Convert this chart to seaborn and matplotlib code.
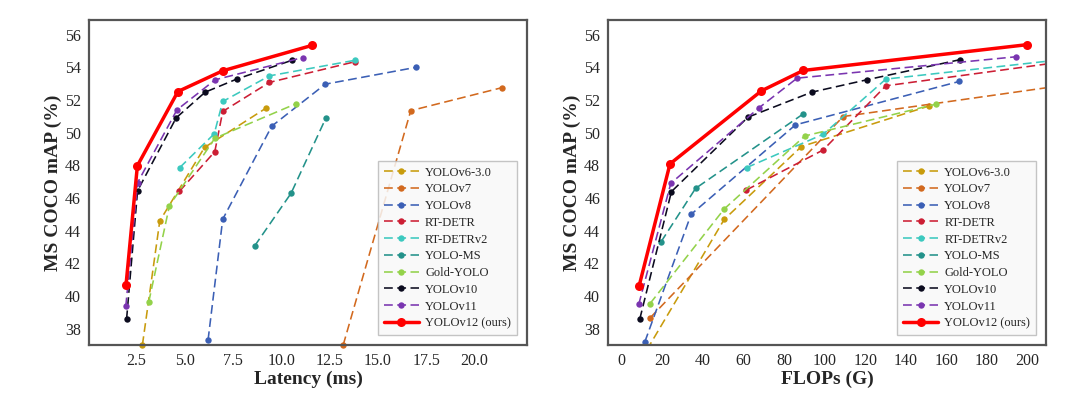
import numpy as np
import pandas as pd
import matplotlib
matplotlib.use("Agg")
import matplotlib.pyplot as plt
import seaborn as sns

# ---------------- data ----------------
models = ["YOLOv6-3.0", "YOLOv7", "YOLOv8", "RT-DETR", "RT-DETRv2",
          "YOLO-MS", "Gold-YOLO", "YOLOv10", "YOLOv11", "YOLOv12 (ours)"]

# latency (ms) vs mAP
v6_lat = [2.80, 3.70, 6.02, 9.20]
v6_map_lat = [37.0, 44.6, 49.1, 51.5]
v7_lat = [13.2, 16.7, 21.4]
v7_map_lat = [37.0, 51.35, 52.75]
v8_lat = [6.2, 6.96, 9.5, 12.27, 16.96]
v8_map_lat = [37.3, 44.7, 50.4, 52.97, 54.0]
rtdetr_lat = [4.71, 6.55, 6.96, 9.38, 13.79]
rtdetr_map_lat = [46.4, 48.84, 51.3, 53.08, 54.34]
rtdetrv2_lat = [4.73, 6.52, 6.96, 9.38, 13.79]
rtdetrv2_map_lat = [47.86, 49.93, 51.91, 53.48, 54.43]
yoloms_lat = [8.61, 10.5, 12.3]
yoloms_map_lat = [43.06, 46.29, 50.89]
gold_lat = [3.13, 4.2, 6.55, 10.75]
gold_map_lat = [39.64, 45.53, 49.66, 51.77]
v10_lat = [1.98, 2.55, 4.55, 6.05, 7.68, 10.54]
v10_map_lat = [38.58, 46.45, 50.91, 52.48, 53.28, 54.43]
v11_lat = [1.94, 2.55, 4.59, 6.57, 11.1]
v11_map_lat = [39.37, 46.94, 51.4, 53.24, 54.6]
v12_lat = [1.95, 2.54, 4.64, 6.96, 11.6]
v12_map_lat = [40.66, 47.98, 52.52, 53.79, 55.35]

# FLOPs (G) vs mAP
v6_flops = [12.5, 50.6, 88.6, 151.6]
v6_map_fl = [36.7, 44.69, 49.15, 51.64]
v7_flops = [14.1, 109.2, 212.0]
v7_map_fl = [38.66, 50.99, 52.8]
v8_flops = [11.5, 34.3, 85.7, 166.4]
v8_map_fl = [37.19, 45.0, 50.48, 53.14]
rtdetr_flops = [61.5, 99.3, 130.2, 215.0]
rtdetr_map_fl = [46.49, 48.94, 52.87, 54.3]
rtdetrv2_flops = [61.6, 99.3, 130.2, 215.0]
rtdetrv2_map_fl = [47.86, 49.9, 53.28, 54.45]
yoloms_flops = [19.5, 36.5, 89.5]
yoloms_map_fl = [43.32, 46.59, 51.15]
gold_flops = [14.1, 50.6, 90.3, 155.0]
gold_map_fl = [39.54, 45.33, 49.8, 51.75]
v10_flops = [9.0, 24.6, 62.3, 93.7, 120.9, 166.7]
v10_map_fl = [38.58, 46.39, 50.95, 52.48, 53.24, 54.47]
v11_flops = [8.5, 24.3, 67.9, 86.5, 194.4]
v11_map_fl = [39.48, 46.9, 51.54, 53.34, 54.65]
v12_flops = [8.7, 23.9, 68.9, 89.5, 199.8]
v12_map_fl = [40.62, 48.09, 52.56, 53.81, 55.39]

lat_x = [v6_lat, v7_lat, v8_lat, rtdetr_lat, rtdetrv2_lat, yoloms_lat,
         gold_lat, v10_lat, v11_lat, v12_lat]
lat_y = [v6_map_lat, v7_map_lat, v8_map_lat, rtdetr_map_lat, rtdetrv2_map_lat,
         yoloms_map_lat, gold_map_lat, v10_map_lat, v11_map_lat, v12_map_lat]
fl_x = [v6_flops, v7_flops, v8_flops, rtdetr_flops, rtdetrv2_flops, yoloms_flops,
        gold_flops, v10_flops, v11_flops, v12_flops]
fl_y = [v6_map_fl, v7_map_fl, v8_map_fl, rtdetr_map_fl, rtdetrv2_map_fl,
        yoloms_map_fl, gold_map_fl, v10_map_fl, v11_map_fl, v12_map_fl]

colors = ["#c89b0c", "#d2691e", "#3b5fb5", "#cc1e34", "#3cc9bf",
          "#23928a", "#93d24a", "#0b0b1e", "#7a35b0", "#ff0000"]

# ---------------- style ----------------
sns.set_theme(style="white")
plt.rcParams["font.family"] = ["Liberation Serif", "DejaVu Serif"]

fig = plt.figure(figsize=(10.8, 3.96), dpi=100)
ax1 = fig.add_axes([0.0827, 0.1288, 0.4049, 0.8207])
ax2 = fig.add_axes([0.5634, 0.1288, 0.4050, 0.8207])


def draw(ax, xs, ys, xlabel, xlim, xticks, clip):
    for name, x, y, c in zip(models, xs, ys, colors):
        df = pd.DataFrame({"x": x, "y": y})
        if name.startswith("YOLOv12"):
            sns.lineplot(data=df, x="x", y="y", ax=ax, color=c, lw=2.5,
                         marker="o", markersize=6.5, markeredgewidth=0,
                         label=name, sort=False, estimator=None, zorder=10,
                         clip_on=clip)
        else:
            sns.lineplot(data=df, x="x", y="y", ax=ax, color=c, lw=1.15,
                         linestyle=(0, (5.5, 2.8)), marker="o", markersize=4.6,
                         markeredgewidth=0, label=name, sort=False,
                         estimator=None, zorder=5, clip_on=clip)
    ax.set_xlim(*xlim)
    ax.set_ylim(37.0, 56.9)
    ax.set_xticks(xticks)
    ax.set_yticks(np.arange(38, 57, 2))
    ax.set_xlabel(xlabel, fontsize=14, fontweight="bold", labelpad=1)
    ax.set_ylabel("MS COCO mAP (%)", fontsize=14, fontweight="bold", labelpad=2)
    ax.tick_params(axis="x", direction="in", length=4, width=1, labelsize=11.5,
                   pad=6, color="#333333")
    ax.tick_params(axis="y", direction="out", length=4, width=1, labelsize=11.5,
                   pad=2, color="#333333")
    for sp in ax.spines.values():
        sp.set_color("#555555")
        sp.set_linewidth(1.6)
        sp.set_zorder(20)
    leg = ax.legend(loc="lower right", fontsize=9, frameon=True, fancybox=False,
                    edgecolor="#bbbbbb", facecolor="#f8f8f8", framealpha=0.85,
                    handlelength=2.8, handletextpad=0.5, labelspacing=0.38,
                    borderaxespad=0.8, borderpad=0.45)
    leg.set_zorder(30)
    leg.get_frame().set_linewidth(1.0)


draw(ax1, lat_x, lat_y, "Latency (ms)", (0.05, 22.7),
     [2.5, 5.0, 7.5, 10.0, 12.5, 15.0, 17.5, 20.0], False)
ax1.set_xticklabels(["2.5", "5.0", "7.5", "10.0", "12.5", "15.0", "17.5", "20.0"])
draw(ax2, fl_x, fl_y, "FLOPs (G)", (-6.4, 209.0), list(range(0, 201, 20)), True)

fig.savefig("out.png", dpi=100)
